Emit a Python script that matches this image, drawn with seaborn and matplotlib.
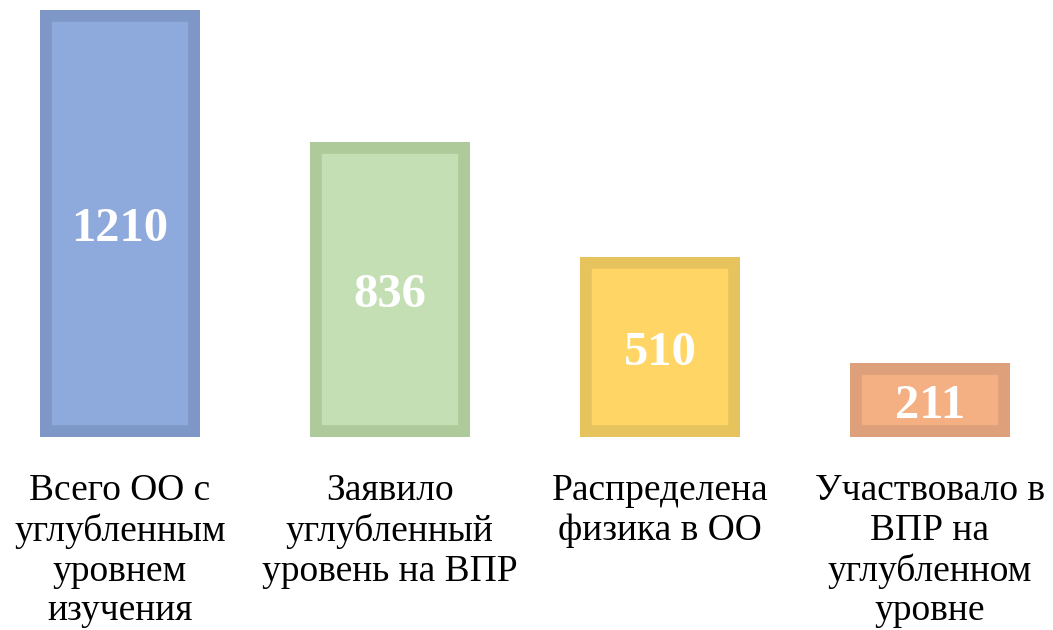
import pandas as pd
import matplotlib.pyplot as plt
import seaborn as sns

categories = [
    "Всего ОО с\nуглубленным\nуровнем\nизучения",
    "Заявило\nуглубленный\nуровень на ВПР",
    "Распределена\nфизика в ОО",
    "Участвовало в\nВПР на\nуглубленном\nуровне",
]
values = [1210, 836, 510, 211]
fill_colors = ["#8EA9DB", "#C5DFB4", "#FFD565", "#F4B083"]
edge_colors = ["#7F97C6", "#AECA9B", "#E7C35D", "#DDA07A"]

sns.set_style("white")
plt.rcParams['font.family'] = ['Liberation Serif', 'DejaVu Serif']

df = pd.DataFrame({"cat": categories, "val": values})

fig = plt.figure(figsize=(10.53, 6.3), dpi=100)
ax = fig.add_axes([0, 0.306, 1, 0.678])
sns.barplot(data=df, x="cat", y="val", color=fill_colors[0],
            width=0.593, ax=ax, saturation=1)

# colour each bar, thick border drawn inside (doubled edge clipped to the patch)
for patch, fc, ec in zip(ax.patches, fill_colors, edge_colors):
    patch.set_facecolor(fc)
    patch.set_edgecolor(ec)
    patch.set_linewidth(17)
    patch.set_clip_path(patch)

ax.bar_label(ax.containers[0], labels=[str(v) for v in values], label_type="center",
             color="white", fontsize=35, fontweight="bold", padding=-4)

ax.set_xlim(-0.444, 3.456)
ax.set_ylim(0, 1210)
ax.set_xlabel("")
ax.set_ylabel("")
ax.set_yticks([])
ax.tick_params(axis="x", length=0, pad=26, labelsize=27, labelcolor="black")
for lbl in ax.get_xticklabels():
    lbl.set_linespacing(1.2)
sns.despine(ax=ax, left=True, bottom=True)

fig.savefig("out.png", dpi=100)
